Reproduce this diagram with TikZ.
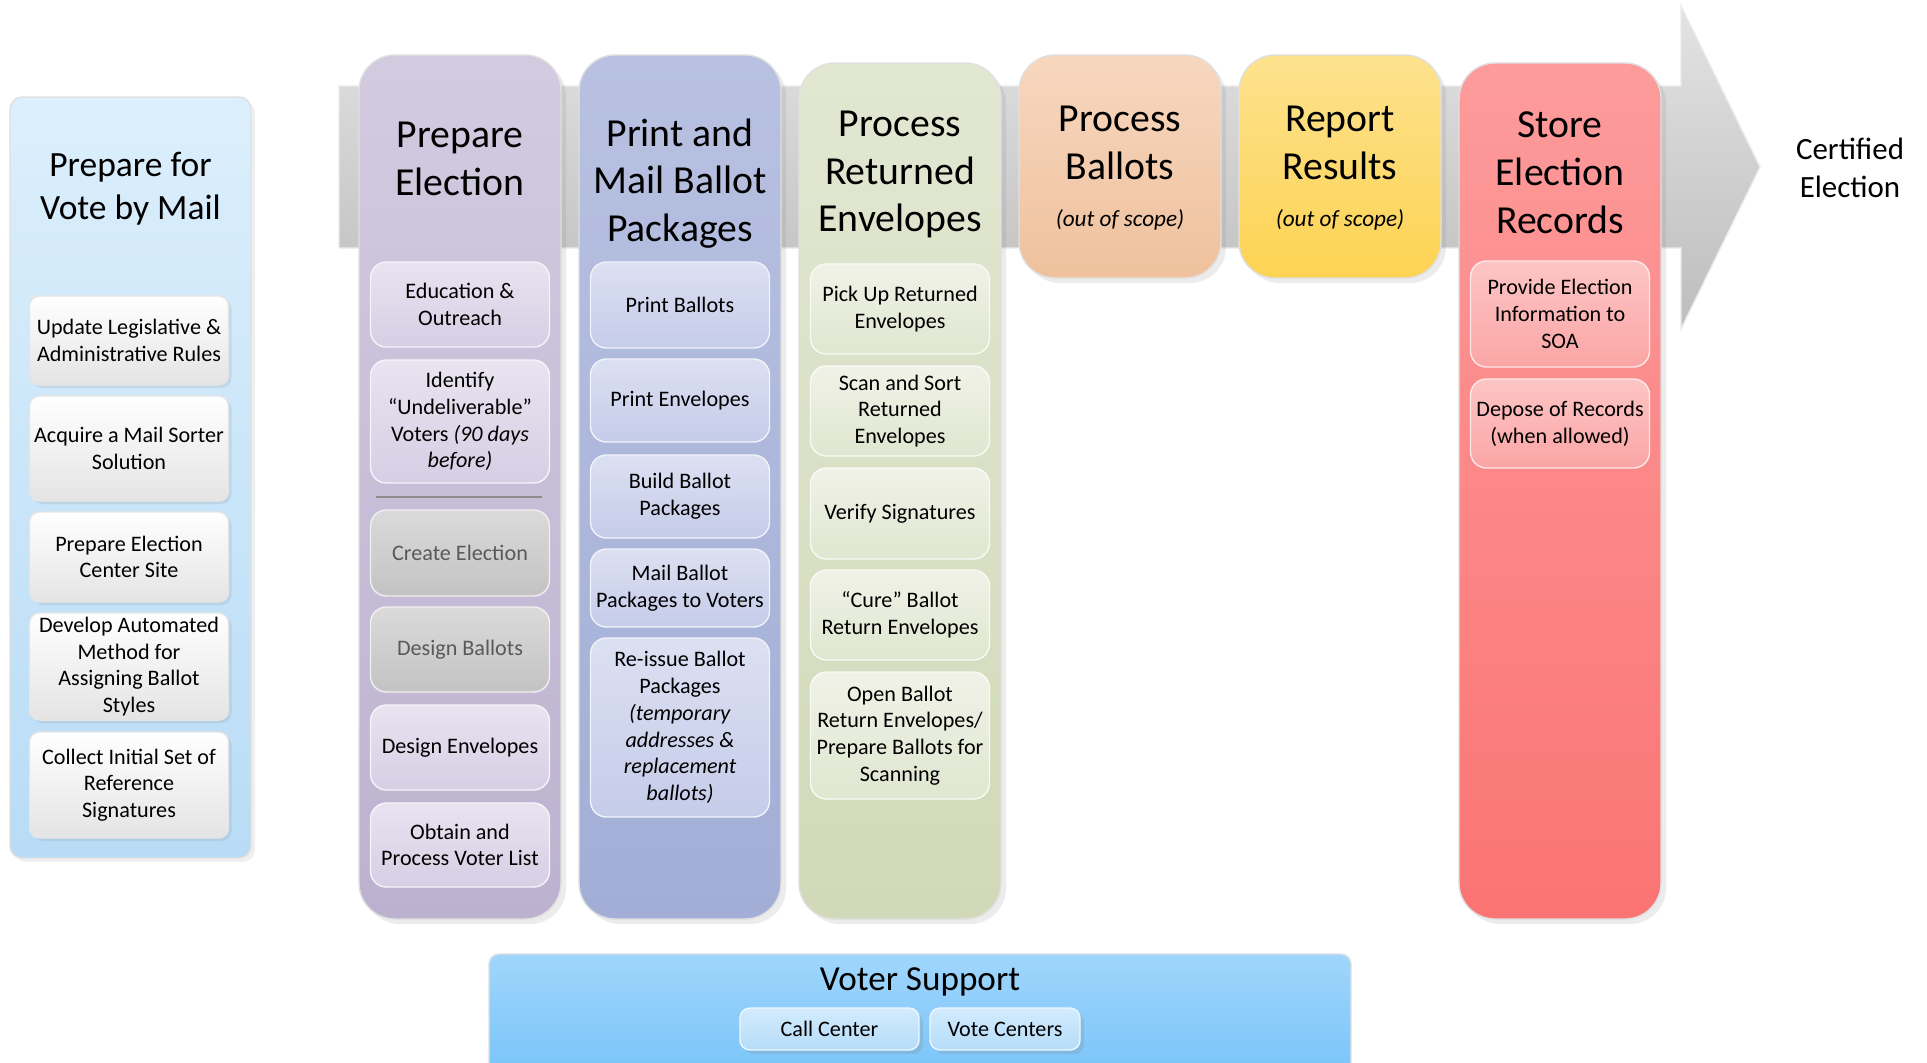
\documentclass[tikz,border=0pt]{standalone}
\usepackage{fontspec}
\setmainfont{Carlito}
\usetikzlibrary{shadows}

\definecolor{arrowtop}{HTML}{E3E3E3}
\definecolor{arrowbot}{HTML}{BDBDBD}
\definecolor{vbmtop}{HTML}{DCEFFC}
\definecolor{vbmbot}{HTML}{B8DCF6}
\definecolor{vbmsubtop}{HTML}{FFFFFF}
\definecolor{vbmsubbot}{HTML}{E4E4E4}
\definecolor{preptop}{HTML}{D2CBE0}
\definecolor{prepbot}{HTML}{BCB2D0}
\definecolor{prepsubtop}{HTML}{E8E4F0}
\definecolor{prepsubbot}{HTML}{D6CEE4}
\definecolor{printtop}{HTML}{B8C1E1}
\definecolor{printbot}{HTML}{A2AED6}
\definecolor{printsubtop}{HTML}{DCE0F2}
\definecolor{printsubbot}{HTML}{C5CCE9}
\definecolor{rettop}{HTML}{E2E7D2}
\definecolor{retbot}{HTML}{D1D9B8}
\definecolor{retsubtop}{HTML}{F0F2E7}
\definecolor{retsubbot}{HTML}{E0E6D0}
\definecolor{proctop}{HTML}{F7D7BF}
\definecolor{procbot}{HTML}{EFC19D}
\definecolor{reptop}{HTML}{FDE28F}
\definecolor{repbot}{HTML}{FDD352}
\definecolor{storetop}{HTML}{FD9B9B}
\definecolor{storebot}{HTML}{FB7474}
\definecolor{storesubtop}{HTML}{FDC5C5}
\definecolor{storesubbot}{HTML}{FBA5A5}
\definecolor{greysubtop}{HTML}{DADADA}
\definecolor{greysubbot}{HTML}{C3C3C3}
\definecolor{greytext}{HTML}{595959}
\definecolor{supporttop}{HTML}{A0D6FC}
\definecolor{supportbot}{HTML}{78C3F9}
\definecolor{supsubtop}{HTML}{D3EBFD}
\definecolor{supsubbot}{HTML}{B5DCF9}

\newcommand{\phasefont}{\fontsize{11.3}{13.6}\selectfont}
\newcommand{\taskfont}{\fontsize{6.3}{7.6}\selectfont}

\begin{document}
\begin{tikzpicture}[x=1mm, y=-1mm,
  phase/.style={rounded corners=3.6mm, minimum width=20.2mm, draw=black!12,
    top color=#1top, bottom color=#1bot,
    drop shadow={shadow xshift=0.5mm, shadow yshift=-0.5mm, opacity=0.15}},
  task/.style={rounded corners=1.6mm, minimum width=17.9mm, inner sep=0.4mm,
    align=center, font=\taskfont, draw=white!60!#1subtop,
    top color=#1subtop, bottom color=#1subbot},
  title/.style={align=center, font=\phasefont}]
\fill[white] (0,0) rectangle (192.7,106.2);
\useasboundingbox (0,0) rectangle (192.7,106.2);

% the big grey arrow behind the phases
\shade[top color=arrowtop, bottom color=arrowbot, draw=black!8]
  (33.9,8.6) -- (168.1,8.6) -- (168.1,0.6) -- (176.0,16.7)
  -- (168.1,32.9) -- (168.1,24.8) -- (33.9,24.8) -- cycle;
\node[font=\fontsize{8.8}{10.8}\selectfont, align=center] (cert) at (185,16.8) {Certified\\Election};

% preparation panel on the left
\node[rounded corners=1.2mm, draw=black!12, top color=vbmtop, bottom color=vbmbot,
  minimum width=24.1mm, minimum height=76.1mm,
  drop shadow={shadow xshift=0.4mm, shadow yshift=-0.4mm, opacity=0.12}] (vbm) at (13.05,47.75) {};
\node[align=center, font=\fontsize{10.1}{12.2}\selectfont] (vbm-t) at (13.05,18.9) {Prepare for\\Vote by Mail};
\foreach \y/\h/\txt [count=\i] in {34.05/8.9/{Update Legislative \&\\Administrative Rules},
    44.85/10.5/{Acquire a Mail Sorter\\Solution},
    55.7/9.0/{Prepare Election\\Center Site},
    66.65/10.7/{Develop Automated\\Method for\\Assigning Ballot\\Styles},
    78.5/10.6/{Collect Initial Set of\\Reference\\Signatures}}
  \node[task=vbm, rounded corners=1mm, minimum width=19.9mm, minimum height=\h mm, draw=black!10,
    drop shadow={shadow xshift=0.3mm, shadow yshift=-0.3mm, opacity=0.15}] (vbm-\i) at (12.9,\y) {\txt};

% phases
\node[phase=prep, minimum height=86.4mm] (prep) at (46,48.7) {};
\node[phase=print, minimum height=86.4mm] (print) at (68,48.7) {};
\node[phase=ret, minimum height=85.6mm] (ret) at (90,49.1) {};
\node[phase=proc, minimum height=22.3mm] (proc) at (112,16.65) {};
\node[phase=rep, minimum height=22.3mm] (rep) at (134,16.65) {};
\node[phase=store, minimum height=85.6mm] (store) at (156,49.1) {};

\node[title] (prep-t) at (46,15.85) {Prepare\\Election};
\node[title] (print-t) at (68,18.35) {Print and\\Mail Ballot\\Packages};
\node[title] (ret-t) at (90,17.45) {Process\\Returned\\Envelopes};
\node[title] (proc-t) at (112,14.25) {Process\\Ballots};
\node[title] (rep-t) at (134,14.25) {Report\\Results};
\node[title] (store-t) at (156,17.25) {Store\\Election\\Records};
\node[font=\fontsize{6.6}{8}\selectfont\itshape] (proc-s) at (112,22.0) {(out of scope)};
\node[font=\fontsize{6.6}{8}\selectfont\itshape] (rep-s) at (134,22.0) {(out of scope)};

% tasks of each phase
\foreach \y/\h/\txt [count=\i] in {30.45/8.5/{Education \&\\Outreach},
    42.15/12.3/{Identify\\“Undeliverable”\\Voters \textit{(90 days}\\\textit{before)}},
    74.75/8.5/{Design Envelopes},
    84.5/8.4/{Obtain and\\Process Voter List}}
  \node[task=prep, minimum height=\h mm] (prep-\i) at (46,\y) {\txt};
\draw[line width=0.6pt, black!45] (37.6,49.7) -- (54.2,49.7);
\node[task=grey, text=greytext, minimum height=8.6mm] (prep-c) at (46,55.3) {Create Election};
\node[task=grey, text=greytext, minimum height=8.5mm] (prep-d) at (46,64.95) {Design Ballots};

\foreach \y/\h/\txt [count=\i] in {30.5/8.6/{Print Ballots},
    40.05/8.3/{Print Envelopes},
    49.65/8.3/{Build Ballot\\Packages},
    58.8/7.8/{Mail Ballot\\Packages to Voters},
    72.75/17.9/{Re-issue Ballot\\Packages\\\textit{(temporary}\\\textit{addresses \&}\\\textit{replacement}\\\textit{ballots)}}}
  \node[task=print, minimum height=\h mm] (print-\i) at (68,\y) {\txt};

\foreach \y/\h/\txt [count=\i] in {30.9/9.0/{Pick Up Returned\\Envelopes},
    41.1/9.0/{Scan and Sort\\Returned\\Envelopes},
    51.35/9.1/{Verify Signatures},
    61.5/9.0/{“Cure” Ballot\\Return Envelopes},
    73.55/12.7/{Open Ballot\\Return Envelopes/\\Prepare Ballots for\\Scanning}}
  \node[task=ret, minimum height=\h mm] (ret-\i) at (90,\y) {\txt};

\foreach \y/\h/\txt [count=\i] in {31.4/10.6/{Provide Election\\Information to\\SOA},
    42.35/8.9/{Depose of Records\\(when allowed)}}
  \node[task=store, minimum height=\h mm] (store-\i) at (156,\y) {\txt};

% voter support bar along the bottom
\node[rounded corners=1mm, draw=black!12, top color=supporttop, bottom color=supportbot,
  minimum width=86.2mm, minimum height=12.6mm] (support) at (92,101.7) {};
\node[font=\fontsize{10}{12}\selectfont] (support-t) at (92,98.2) {Voter Support};
\node[task=sup, rounded corners=1mm, minimum height=4.2mm,
  drop shadow={shadow xshift=0.4mm, shadow yshift=-0.4mm, opacity=0.2}] (call) at (82.95,102.9) {Call Center};
\node[task=sup, rounded corners=1mm, minimum width=15mm, minimum height=4.2mm,
  drop shadow={shadow xshift=0.4mm, shadow yshift=-0.4mm, opacity=0.2}] (vote) at (100.5,102.9) {Vote Centers};
\end{tikzpicture}
\end{document}
